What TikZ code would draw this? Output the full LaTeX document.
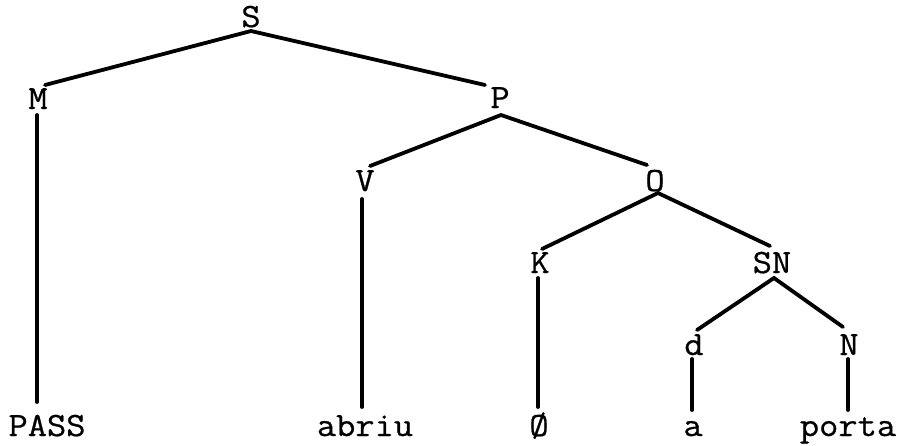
\documentclass[tikz,border=0pt]{standalone}
\usepackage{fontspec}
\newfontfamily\twfont{Latin Modern Mono}[FakeStretch=1.1,FakeBold=0.7]
\begin{document}
\begin{tikzpicture}[x=1pt,y=-1pt,
  lbl/.style={anchor=base,inner sep=0pt,font=\fontsize{34}{37}\selectfont\twfont},
  edge/.style={line width=3.8pt,line cap=round}]
\useasboundingbox (0,0) rectangle (903,445);
% labels
\node[lbl] (S)  at (251,27) {S};
\node[lbl] (M)  at (38,109) {M};
\node[lbl] (P)  at (500,108) {P};
\node[lbl] (V)  at (365,191) {V};
\node[lbl] (O)  at (655,191) {O};
\node[lbl] (K)  at (540,273) {K};
\node[lbl] (SN) at (772,273) {SN};
\node[lbl] (d)  at (694,355) {d};
\node[lbl] (N)  at (849,355) {N};
\node[lbl] (pass)  at (47,436) {PASS};
\node[lbl] (abriu) at (365,436) {abriu};
\node[lbl] (zero)  at (539,436) {Ø};
\node[lbl] (a)     at (693,436) {a};
\node[lbl] (porta) at (848,436) {porta};
% connector end points
\coordinate (Sb) at (251,31);
\coordinate (Mt) at (45,85);
\coordinate (Pt) at (485,85);
\coordinate (Mb) at (37,115);
\coordinate (passt) at (37,402);
\coordinate (Pb) at (501,115);
\coordinate (Vt) at (370,166);
\coordinate (Ot) at (647,165);
\coordinate (Vb) at (362,199);
\coordinate (abriut) at (362,407);
\coordinate (Ob) at (658,193);
\coordinate (Kt) at (542,249);
\coordinate (SNt) at (770,246);
\coordinate (Kb) at (538,278);
\coordinate (zerot) at (538,407);
\coordinate (SNb) at (774,278);
\coordinate (dt) at (697,330);
\coordinate (Nt) at (843,327);
\coordinate (db) at (692,359);
\coordinate (at) at (692,410);
\coordinate (Nb) at (848,359);
\coordinate (portat) at (848,410);
% connectors
\draw[edge] (Mt) -- (Sb) -- (Pt);
\draw[edge] (Mb) -- (passt);
\draw[edge] (Vt) -- (Pb) -- (Ot);
\draw[edge] (Vb) -- (abriut);
\draw[edge] (Kt) -- (Ob) -- (SNt);
\draw[edge] (Kb) -- (zerot);
\draw[edge] (dt) -- (SNb) -- (Nt);
\draw[edge] (db) -- (at);
\draw[edge] (Nb) -- (portat);
\end{tikzpicture}
\end{document}
